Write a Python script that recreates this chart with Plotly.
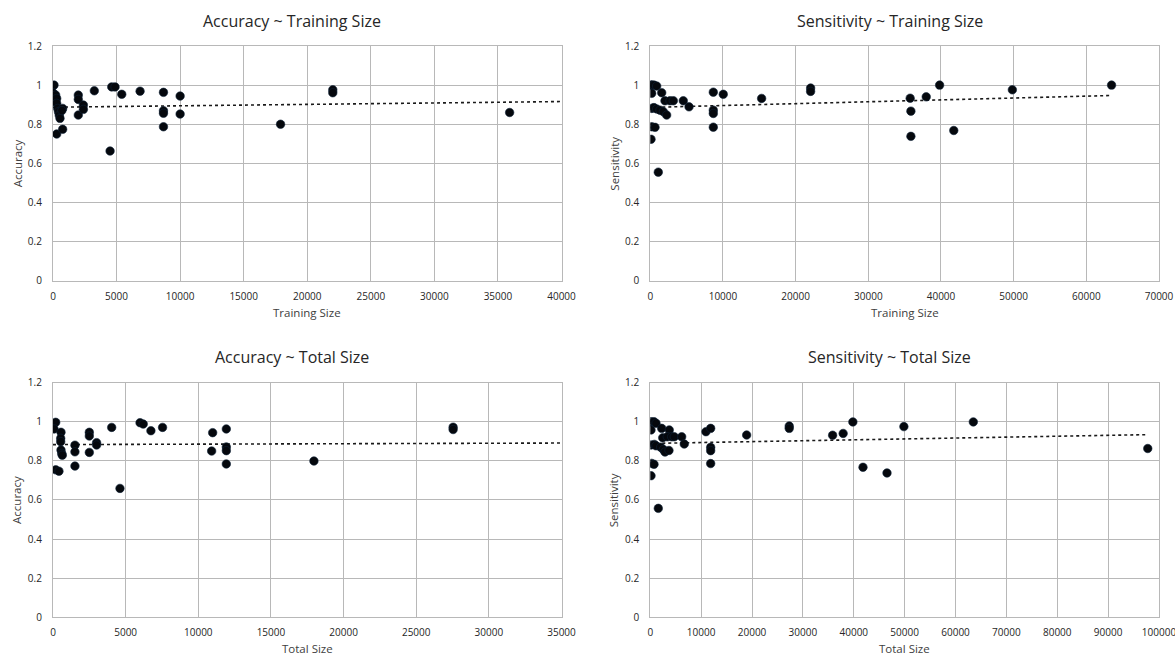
import plotly.graph_objects as go

# ---------------- data ----------------
# Panel 1: Accuracy ~ Training Size
acc_train_x = [80, 0, 210, 290, 290, 370, 430, 490, 550, 760, 700, 290, 760,
               1990, 1990, 1990, 2390, 2390, 3250, 4490, 4620, 4880, 5410, 6850,
               8690, 8690, 8690, 8690, 10000, 10000, 17900, 22010, 22010, 35920]
acc_train_y = [1.0, 0.961, 0.949, 0.932, 0.907, 0.881, 0.864, 0.847, 0.830, 0.881, 0.87, 0.750, 0.774,
               0.949, 0.927, 0.847, 0.898, 0.876, 0.971, 0.663, 0.991, 0.991, 0.953, 0.969,
               0.963, 0.869, 0.856, 0.787, 0.944, 0.852, 0.800, 0.976, 0.961, 0.860]

# Panel 2: Sensitivity ~ Training Size
sens_train_x = [100, 190, 500, 880, 190, 1570, 190, 500, 880, 1330, 1800, 2250, 2020, 2710,
                3170, 4540, 5330, 100, 190, 650, 1100, 8670, 8670, 8670, 8670, 10040,
                15320, 22060, 22060, 35760, 35860, 35860, 37970, 39810, 41760, 49820, 63470]
sens_train_y = [1.0, 1.0, 1.0, 0.995, 0.958, 0.961, 0.881, 0.885, 0.878, 0.872, 0.864, 0.847, 0.92, 0.92,
                0.92, 0.92, 0.889, 0.723, 0.787, 0.784, 0.555, 0.964, 0.872, 0.855, 0.785, 0.953,
                0.932, 0.985, 0.968, 0.933, 0.867, 0.738, 0.940, 1.0, 0.768, 0.976, 1.0]

# Panel 3: Accuracy ~ Total Size
acc_total_x = [185, 70, 550, 530, 530, 550, 600, 640, 185, 410, 1510, 1510, 1510,
               2500, 2500, 2500, 3000, 3000, 4040, 4610, 5990, 6210, 6740, 7540,
               10990, 10920, 11930, 11930, 11930, 11930, 17960, 27540, 27540]
acc_total_y = [0.997, 0.963, 0.946, 0.915, 0.898, 0.855, 0.838, 0.829, 0.754, 0.747, 0.88, 0.846, 0.773,
               0.946, 0.927, 0.843, 0.893, 0.881, 0.971, 0.659, 0.995, 0.988, 0.954, 0.971,
               0.944, 0.850, 0.963, 0.871, 0.852, 0.784, 0.799, 0.972, 0.960]

# Panel 4: Sensitivity ~ Total Size
sens_total_x = [140, 730, 1120, 140, 2240, 3730, 140, 790, 1120, 2040, 2560, 2890, 3670,
                2440, 3340, 4200, 4720, 6170, 6680, 140, 270, 730, 1570, 10940, 11870,
                11870, 11870, 11870, 18940, 27310, 27310, 35840, 37910, 39820, 41810,
                46530, 49850, 63500, 97790]
sens_total_y = [1.0, 1.0, 0.992, 0.958, 0.966, 0.958, 0.881, 0.884, 0.877, 0.87, 0.858, 0.845, 0.853,
                0.918, 0.923, 0.923, 0.923, 0.923, 0.886, 0.724, 0.787, 0.782, 0.557, 0.949, 0.966,
                0.869, 0.852, 0.786, 0.932, 0.978, 0.966, 0.931, 0.940, 0.999, 0.767,
                0.738, 0.975, 0.999, 0.863]

# Linear trendlines (end-point values)
trend_acc_train_x = [0, 40000]
trend_acc_train_y = [0.887, 0.916]
trend_sens_train_x = [0, 63470]
trend_sens_train_y = [0.886, 0.947]
trend_acc_total_x = [0, 35000]
trend_acc_total_y = [0.883, 0.891]
trend_sens_total_x = [0, 97790]
trend_sens_total_y = [0.889, 0.934]

titles = ["Accuracy ~ Training Size", "Sensitivity ~ Training Size",
          "Accuracy ~ Total Size", "Sensitivity ~ Total Size"]
x_titles = ["Training Size", "Training Size", "Total Size", "Total Size"]
y_titles = ["Accuracy", "Sensitivity", "Accuracy", "Sensitivity"]
x_max = [40000, 70000, 35000, 100000]
x_dtick = [5000, 10000, 5000, 10000]

# ---------------- layout geometry ----------------
W, H = 1175, 656
col_px = [(53, 561.5), (650.3, 1159)]
row_px = [(46, 280.7), (382.6, 617.3)]

FONT = "Open Sans"
GRID = "#b8b8b8"
TXT = "#404040"

panels = [
    (acc_train_x, acc_train_y, trend_acc_train_x, trend_acc_train_y, 0, 0),
    (sens_train_x, sens_train_y, trend_sens_train_x, trend_sens_train_y, 0, 1),
    (acc_total_x, acc_total_y, trend_acc_total_x, trend_acc_total_y, 1, 0),
    (sens_total_x, sens_total_y, trend_sens_total_x, trend_sens_total_y, 1, 1),
]

fig = go.Figure()
annotations = []
layout_axes = {}

for i, (xs, ys, tx, ty, r, c) in enumerate(panels):
    n = i + 1
    xa = "x" if n == 1 else f"x{n}"
    ya = "y" if n == 1 else f"y{n}"
    x0p, x1p = col_px[c]
    y0p, y1p = row_px[r]
    xd = [x0p / W, x1p / W]
    yd = [1 - y1p / H, 1 - y0p / H]

    fig.add_trace(go.Scatter(x=tx, y=ty, mode="lines",
                             line=dict(color="#1a1a1a", width=1.6, dash="dot"),
                             xaxis=xa, yaxis=ya, showlegend=False, hoverinfo="skip"))
    fig.add_trace(go.Scatter(x=xs, y=ys, mode="markers",
                             marker=dict(color="#05080d", size=8.5,
                                         line=dict(color="#0d2238", width=0.6)),
                             xaxis=xa, yaxis=ya, showlegend=False))

    axis_common = dict(showgrid=True, gridcolor=GRID, gridwidth=1.3,
                       showline=True, linecolor=GRID, linewidth=1.3, mirror=True,
                       zeroline=False, ticks="", fixedrange=True, automargin=False,
                       ticklabeloverflow="allow",
                       tickfont=dict(family=FONT, size=10, color="#262626"))
    layout_axes["xaxis" if n == 1 else f"xaxis{n}"] = dict(
        axis_common, domain=xd, range=[0, x_max[i]], dtick=x_dtick[i], tick0=0,
        tickformat="d", anchor=ya, ticklabelstandoff=6)
    layout_axes["yaxis" if n == 1 else f"yaxis{n}"] = dict(
        axis_common, domain=yd, range=[0, 1.2], dtick=0.2, tick0=0,
        anchor=xa, ticklabelstandoff=8)

    # chart title
    cx = (x0p + x1p) / 2 - 15
    annotations.append(dict(text=titles[i], x=cx / W, y=1 - (y0p - 25.5) / H,
                            xref="paper", yref="paper", showarrow=False,
                            xanchor="center", yanchor="middle",
                            font=dict(family=FONT, size=16, color="#262626")))
    # x-axis title
    annotations.append(dict(text=x_titles[i], x=(x0p + x1p) / 2 / W, y=1 - (y1p + 31.5) / H,
                            xref="paper", yref="paper", showarrow=False,
                            xanchor="center", yanchor="middle",
                            font=dict(family=FONT, size=11.5, color=TXT)))
    # y-axis title
    annotations.append(dict(text=y_titles[i], x=(x0p - 36) / W, y=1 - ((y0p + y1p) / 2) / H,
                            xref="paper", yref="paper", showarrow=False, textangle=-90,
                            xanchor="center", yanchor="middle",
                            font=dict(family=FONT, size=11.5, color=TXT)))

fig.update_layout(
    width=W, height=H, autosize=False,
    margin=dict(l=0, r=0, t=0, b=0),
    paper_bgcolor="white", plot_bgcolor="white",
    annotations=annotations,
    **layout_axes,
)

fig.write_html(
    "out.html",
    config={"displayModeBar": False},
    post_script="document.body.style.margin='0';document.body.style.overflow='hidden';",
)
